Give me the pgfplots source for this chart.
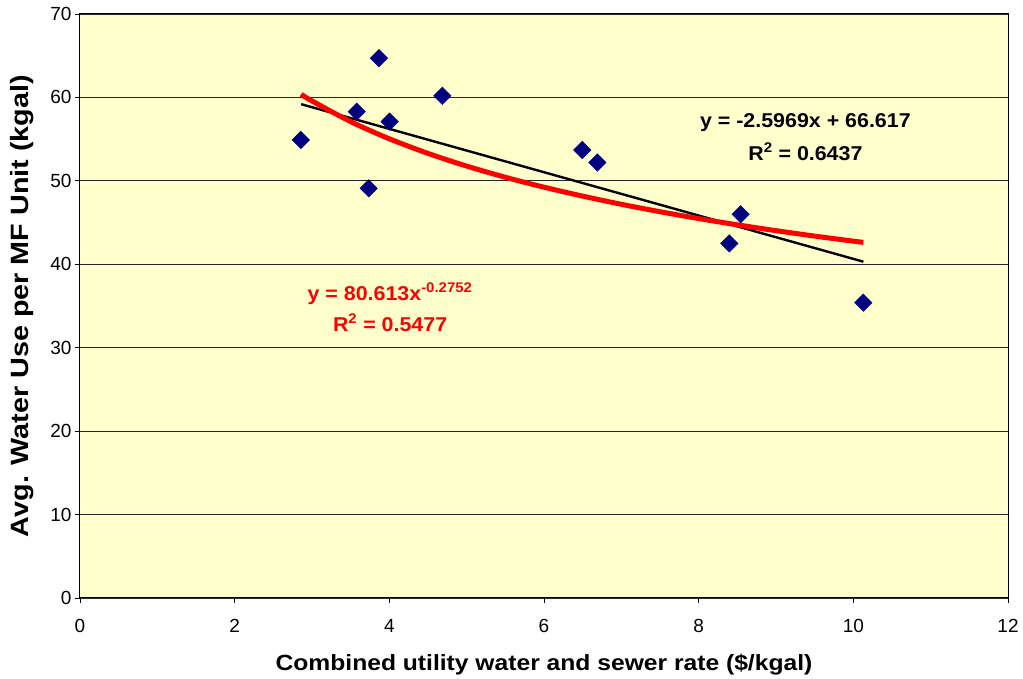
\documentclass[border=0pt]{standalone}
\usepackage{fontspec}
\setmainfont{Liberation Sans}
\usepackage{pgfplots}
\pgfplotsset{compat=1.18}
\definecolor{bgy}{HTML}{FFFFCC}
\definecolor{navyb}{HTML}{000080}
\begin{document}
\begin{tikzpicture}
\begin{axis}[
  scale only axis, width=928pt, height=584pt,
  xmin=0, xmax=12, ymin=0, ymax=70,
  xtick={0,2,...,12}, ytick={0,10,...,70},
  tick pos=left, tick align=outside, major tick length=5pt,
  tick style={black, line width=0.8pt},
  ymajorgrids, grid style={black!85, line width=0.9pt},
  axis background/.style={fill=bgy},
  axis line style={black, line width=1pt},
  ticklabel style={font=\fontsize{19}{22}\selectfont},
  xticklabel style={yshift=-13pt},
  /pgf/number format/assume math mode=true,
  xlabel={Combined utility water and sewer rate (\$/kgal)},
  ylabel={Avg. Water Use per MF Unit (kgal)},
  xlabel style={font=\bfseries\fontsize{22}{26}\selectfont, xscale=1.12,
    at={(axis description cs:0.5,-0.1144)}, anchor=center},
  ylabel style={font=\bfseries\fontsize{25}{30}\selectfont, xscale=1.15,
    at={(axis description cs:-0.0620,0.5)}, anchor=center},
]
\addplot[black, line width=2.4pt] coordinates {(2.86,59.19) (10.13,40.31)};
\addplot[red, line width=5pt, smooth] coordinates {
 (2.86,60.37) (3,59.58) (3.5,57.10) (4,55.04) (4.5,53.29) (5,51.77) (5.5,50.43)
 (6,49.24) (6.5,48.17) (7,47.19) (7.5,46.30) (8,45.48) (8.5,44.73) (9,44.03)
 (9.5,43.38) (10,42.77) (10.13,42.63)};
\addplot[only marks, mark=square*, mark size=6.2pt,
  mark options={rotate=45, fill=navyb, draw=navyb}] coordinates {
 (2.855,54.9) (3.578,58.3) (3.866,64.7) (3.733,49.1) (4.004,57.1) (4.685,60.2)
 (6.495,53.7) (6.69,52.2) (8.396,42.5) (8.543,46.0) (10.129,35.4)};
\node[font=\bfseries\fontsize{20}{24}\selectfont, xscale=1.07, text=black] at (axis cs:9.38,57.0) {y = -2.5969x + 66.617};
\node[font=\bfseries\fontsize{20}{24}\selectfont, xscale=1.07, text=black] at (axis cs:9.38,53.5) {R\textsuperscript{2} = 0.6437};
\node[font=\bfseries\fontsize{20}{24}\selectfont, xscale=1.07, text=red] at (axis cs:4.01,36.5) {y = 80.613x\textsuperscript{-0.2752}};
\node[font=\bfseries\fontsize{20}{24}\selectfont, xscale=1.07, text=red] at (axis cs:4.01,33.0) {R\textsuperscript{2} = 0.5477};
\end{axis}
\pgfresetboundingbox
\path[use as bounding box] (-80pt,-81pt) rectangle (943pt,598pt);
\end{tikzpicture}
\end{document}
